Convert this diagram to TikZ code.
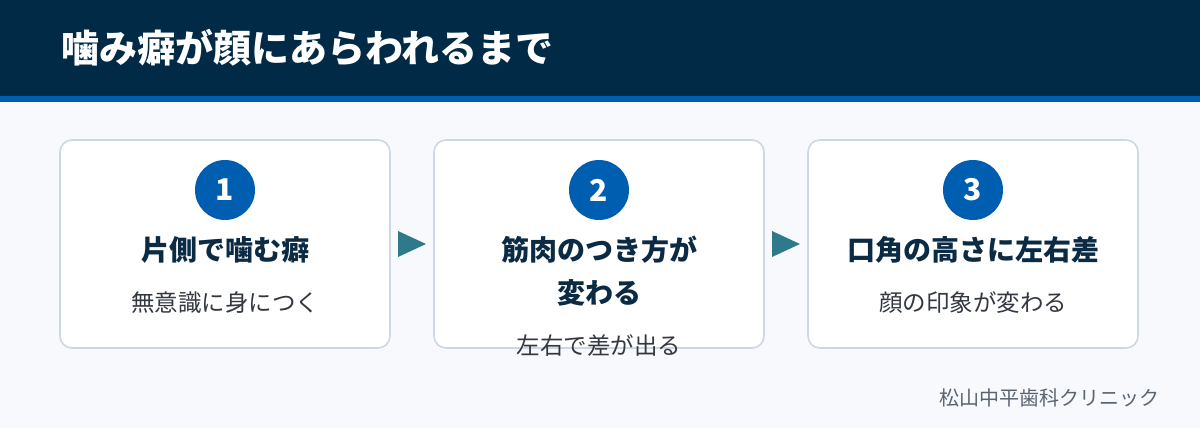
\documentclass[tikz,border=0pt]{standalone}
\usepackage{fontspec}
\setmainfont{Noto Sans CJK JP}
\usetikzlibrary{positioning}
\definecolor{navy}{HTML}{002A45}
\definecolor{stripe}{HTML}{005EB0}
\definecolor{pagebg}{HTML}{F7F9FC}
\definecolor{cardline}{HTML}{CED8E4}
\definecolor{ink}{HTML}{0B2A44}
\definecolor{subink}{HTML}{333840}
\definecolor{flowteal}{HTML}{2E7A8A}
\definecolor{footgray}{HTML}{5A6470}
\begin{document}
\begin{tikzpicture}[x=1pt,y=-1pt,
  card/.style={draw=cardline,line width=1.6pt,fill=white,rounded corners=12pt,
    minimum width=330pt,minimum height=208pt,inner sep=0pt},
  badge/.style={circle,fill=stripe,minimum size=60pt,inner sep=0pt,text=white,
    font=\fontsize{30}{30}\selectfont\bfseries},
  steptitle/.style={text=ink,font=\fontsize{28}{43}\selectfont\bfseries,
    align=center,anchor=north,inner sep=0pt},
  stepnote/.style={text=subink,font=\fontsize{23.5}{26}\selectfont,inner sep=0pt},
  flowtip/.style={fill=flowteal}]
 \useasboundingbox (0,0) rectangle (1200,428);
 \fill[pagebg] (0,0) rectangle (1200,428);
 % header band
 \fill[navy] (0,0) rectangle (1200,96);
 \fill[stripe] (0,96) rectangle (1200,102);
 \node[anchor=west,inner sep=0pt,text=white,font=\fontsize{38}{38}\selectfont\bfseries]
   (heading) at (61,48) {噛み癖が顔にあらわれるまで};
 % the three steps
 \foreach \i/\cx/\ttl/\note in {1/225/片側で噛む癖/無意識に身につく,
     2/599/{筋肉のつき方が\\変わる}/左右で差が出る,
     3/973/口角の高さに左右差/顔の印象が変わる}
 {
  \node[card] (card\i) at (\cx,244) {};
  \node[badge] (badge\i) at (\cx,190) {\i};
  \node[steptitle] (ttl\i) at (\cx,236) {\ttl};
  \node[stepnote,below=28pt of ttl\i] (note\i) {\note};
 }
 % arrows between the cards
 \path (card1.east) -- (card2.west) coordinate[midway] (tip1);
 \path (card2.east) -- (card3.west) coordinate[midway] (tip2);
 \foreach \t in {tip1,tip2}
  \fill[flowtip] (\t) ++(-14,-13) -- ++(28,13) -- ++(-28,13) -- cycle;
 % clinic name
 \node[anchor=east,inner sep=0pt,text=footgray,font=\fontsize{20}{20}\selectfont]
   (clinic) at (1160,398) {松山中平歯科クリニック};
\end{tikzpicture}
\end{document}
